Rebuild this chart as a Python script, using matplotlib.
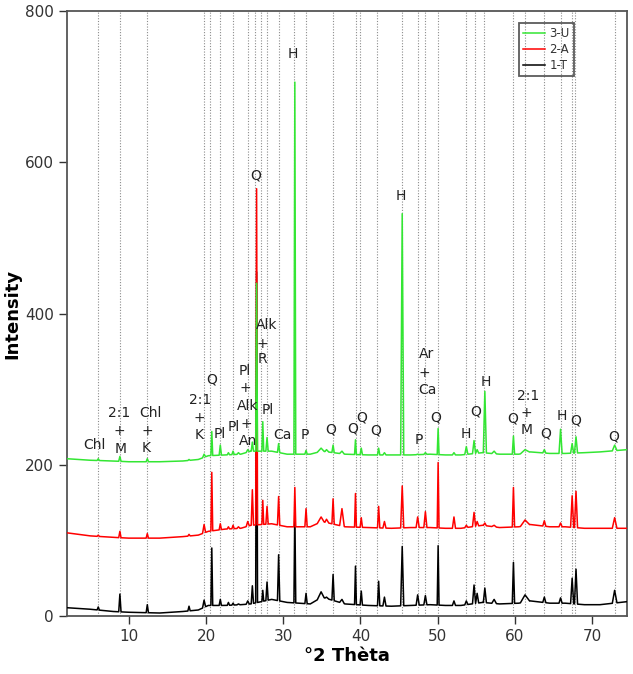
import numpy as np
import matplotlib
matplotlib.use("Agg")
import matplotlib.pyplot as plt

# ---------------- data ----------------
# baseline knots (2θ) and baseline intensity of each pattern
base_tt = [2, 5, 8, 10, 14, 17, 19, 20.3, 22.5, 24.5, 25.8, 28.5, 30.5, 33.5, 35.0, 38, 41, 44,
           46.5, 49, 51, 53, 55.8, 58, 60.5, 62, 64.5, 66.5, 69, 71, 74.5]
base_T = [11, 9, 6, 5, 4, 6, 8, 14, 14, 15, 16, 22, 18, 16, 25, 16, 14, 13,
          14, 15, 14, 14, 18, 16, 17, 20, 17, 17, 15, 15, 19]
base_A = [110, 106, 104, 103, 103, 105, 107, 112, 115, 116, 120, 122, 118, 118, 125, 118, 117, 116,
          117, 117, 116, 116, 120, 117, 118, 121, 118, 118, 116, 116, 116]
base_U = [208, 206, 205, 204, 204, 205, 207, 212, 213, 214, 218, 218, 214, 214, 218, 214, 213, 213,
          213, 214, 213, 213, 216, 214, 214, 217, 215, 215, 216, 217, 220]

# peaks: position (2θ), apex intensity for each pattern, half width (°)
peak_tt = [6.05, 8.85, 12.4, 17.8, 19.75, 20.75, 21.85, 22.9, 23.5, 24.2, 25.4, 26.0, 26.55, 27.35,
           27.9, 29.4, 31.5, 32.95, 34.9, 35.6, 36.45, 37.6, 39.35, 40.1, 42.35, 43.1, 45.4, 47.4,
           48.4, 50.05, 52.1, 53.7, 54.7, 55.1, 56.1, 57.3, 59.8, 61.3, 63.8, 65.9, 67.4, 67.9, 72.9]
peak_T = [12, 29, 15, 13, 21, 90, 22, 18, 17, 16, 20, 40, 455, 34,
          45, 81, 144, 30, 32, 25, 55, 22, 66, 33, 46, 25, 92, 28,
          27, 93, 20, 20, 41, 30, 37, 22, 71, 28, 25, 24, 50, 62, 34]
peak_A = [107, 112, 109, 108, 121, 190, 122, 118, 120, 118, 125, 167, 565, 153,
          145, 158, 170, 142, 131, 128, 155, 142, 162, 130, 145, 125, 172, 131,
          138, 203, 131, 120, 137, 125, 123, 120, 170, 127, 126, 123, 159, 165, 130]
peak_U = [208, 211, 208, 207, 214, 244, 226, 216, 218, 216, 220, 230, 440, 257,
          236, 228, 706, 219, 222, 220, 226, 218, 233, 222, 222, 216, 532, 214,
          216, 248, 216, 224, 232, 220, 297, 218, 238, 220, 220, 247, 228, 237, 226]
peak_hw = [0.15, 0.15, 0.15, 0.15, 0.2, 0.12, 0.15, 0.15, 0.15, 0.2, 0.2, 0.15, 0.12, 0.12,
           0.15, 0.15, 0.12, 0.15, 0.5, 0.3, 0.15, 0.3, 0.12, 0.15, 0.15, 0.2, 0.2, 0.2,
           0.2, 0.12, 0.2, 0.2, 0.2, 0.2, 0.2, 0.3, 0.15, 0.6, 0.2, 0.2, 0.2, 0.2, 0.3]

# reference lines (2θ)
ref_tt = [6.05, 8.85, 12.4, 19.75, 20.5, 21.8, 23.45, 25.4, 26.3, 27.1, 27.85, 29.45, 31.45, 32.95,
          36.45, 39.45, 40.0, 42.15, 45.4, 47.4, 48.35, 50.0, 53.65, 54.8, 56.0, 59.75, 61.25,
          63.75, 65.95, 67.4, 67.8, 73.0]

# phase labels: text, 2θ, intensity
labels = [
    ("Chl", 5.54, 226), ("2:1", 8.78, 268), ("+", 8.78, 245), ("M", 8.9, 221),
    ("Chl", 12.8, 269), ("+", 12.41, 245), ("K", 12.28, 222),
    ("2:1", 19.28, 285), ("+", 19.15, 262), ("K", 19.15, 240),
    ("Q", 20.71, 313), ("Pl", 21.74, 241), ("Pl", 23.56, 250),
    ("Pl", 25.0, 324), ("+", 25.1, 301), ("Alk", 25.4, 278), ("+", 25.25, 254), ("An", 25.4, 232),
    ("Q", 26.4, 583), ("Alk", 27.84, 385), ("+", 27.3, 360), ("R", 27.3, 340),
    ("Pl", 27.97, 273), ("Ca", 29.9, 240), ("P", 32.8, 240), ("H", 31.2, 743),
    ("Q", 36.1, 246), ("Q", 39.0, 248), ("Q", 40.15, 262), ("Q", 41.96, 245),
    ("H", 45.2, 555), ("Ar", 48.6, 346), ("+", 48.3, 322), ("Ca", 48.7, 299),
    ("P", 47.54, 233), ("Q", 49.74, 262), ("H", 53.63, 241), ("Q", 54.9, 270),
    ("H", 56.2, 310), ("Q", 59.7, 261), ("2:1", 61.7, 291), ("+", 61.5, 268), ("M", 61.5, 246),
    ("Q", 64.0, 241), ("H", 66.1, 264), ("Q", 67.8, 258), ("Q", 72.8, 237),
]

series_names = ["3-U", "2-A", "1-T"]
series_colors = ["#33e633", "#ff0000", "#000000"]


def build_trace(base, tops):
    bx = np.array(base_tt, float)
    by = np.array(base, float)
    px = np.array(peak_tt, float)
    hw = np.array(peak_hw, float)
    keep = np.ones(len(bx), bool)
    for p, h in zip(px, hw):
        keep &= ~((bx > p - h) & (bx < p + h))
    xs = list(bx[keep])
    ys = list(by[keep])
    for p, t, h in zip(px, tops, hw):
        for xx in (p - h, p + h):
            xs.append(xx)
            ys.append(np.interp(xx, bx, by))
        xs.append(p)
        ys.append(t)
    order = np.argsort(xs)
    return np.array(xs)[order], np.array(ys)[order]


fig = plt.figure(figsize=(6.33, 6.74), dpi=100)
ax = fig.add_axes([0.1058, 0.086, 0.8847, 0.8977])

for x in ref_tt:
    ax.axvline(x, color="#8c8c8c", lw=0.8, ls=(0, (1, 1.5)), zorder=1)

traces = {"1-T": base_T, "2-A": base_A, "3-U": base_U}
tops = {"1-T": peak_T, "2-A": peak_A, "3-U": peak_U}
colors = dict(zip(series_names, series_colors))
handles = {}
for name in ["1-T", "2-A", "3-U"]:
    x, y = build_trace(traces[name], tops[name])
    h, = ax.plot(x, y, color=colors[name], lw=1.1, zorder=3)
    handles[name] = h

for txt, x, y in labels:
    ax.text(x, y, txt, ha="center", va="center", fontsize=10, color="#222222", zorder=4)

ax.set_xlim(2, 74.5)
ax.set_ylim(0, 800)
ax.set_xticks([10, 20, 30, 40, 50, 60, 70])
ax.set_yticks([0, 200, 400, 600, 800])
ax.tick_params(direction="out", length=6, width=1, labelsize=11, colors="#333333")
for s in ax.spines.values():
    s.set_color("#555555")
    s.set_linewidth(1.3)
ax.set_xlabel("°2 Thèta", fontsize=13, fontweight="bold", labelpad=2)
ax.set_ylabel("Intensity", fontsize=13, fontweight="bold")
ax.yaxis.set_label_coords(-0.082, 0.5)

leg = ax.legend([handles[n] for n in series_names], series_names, loc="upper right",
                bbox_to_anchor=(0.905, 0.98), fontsize=8.5, frameon=True, fancybox=False,
                handlelength=1.8, borderpad=0.35, labelspacing=0.25, handletextpad=0.4,
                borderaxespad=0.0)
leg.get_frame().set_edgecolor("#333333")
leg.get_frame().set_linewidth(1.3)
leg.get_frame().set_facecolor("none")
for t in leg.get_texts():
    t.set_color("#333333")

fig.savefig("out.png", dpi=100)
